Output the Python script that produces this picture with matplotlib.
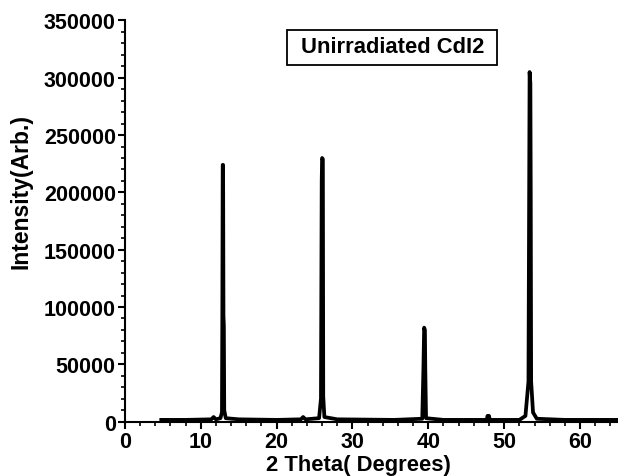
import numpy as np
import matplotlib.pyplot as plt
from matplotlib.patches import Rectangle
from matplotlib.ticker import MultipleLocator

plt.rcParams['font.family'] = ['Liberation Sans', 'DejaVu Sans']
plt.rcParams['font.weight'] = 'bold'

# XRD pattern (2 theta, intensity)
two_theta = [4.8, 8.0, 11.4, 11.7, 12.0, 12.6, 12.8, 12.85, 12.9, 12.95, 13.0, 13.05, 13.1, 13.3,
             15.0, 20.0, 23.2, 23.5, 23.8, 25.6, 25.85, 25.95, 26.0, 26.1, 26.15, 26.3, 28.0,
             35.5, 39.2, 39.35, 39.45, 39.55, 39.6, 39.7, 42.0, 47.7, 47.8, 48.0, 48.1,
             52.0, 52.8, 53.2, 53.35, 53.45, 53.5, 53.55, 53.8, 54.3, 58.0, 65.0]
intensity = [1500, 1500, 2000, 4000, 2000, 3000, 8000, 92000, 224000, 224000, 92000, 84000, 10000, 3000,
             2000, 1500, 2000, 4000, 2000, 3000, 20000, 210000, 230000, 229000, 22000, 4000, 2000,
             1500, 2500, 45000, 82000, 80000, 46000, 3000, 1500, 1500, 5000, 5000, 1500,
             1500, 5000, 35000, 305000, 295000, 196000, 35000, 8000, 2500, 1500, 1500]

fig = plt.figure(figsize=(6.18, 4.77), dpi=100)
ax = fig.add_axes([0.202, 0.114, 0.798, 0.841])

ax.plot(two_theta, intensity, color='black', lw=2.7)

ax.set_xlim(0, 65)
ax.set_ylim(0, 350000)
ax.xaxis.set_major_locator(MultipleLocator(10))
ax.xaxis.set_minor_locator(MultipleLocator(2))
ax.yaxis.set_major_locator(MultipleLocator(50000))
ax.yaxis.set_minor_locator(MultipleLocator(10000))

ax.spines['top'].set_visible(False)
ax.spines['right'].set_visible(False)
ax.spines['left'].set_linewidth(1.5)
ax.spines['bottom'].set_linewidth(1.5)
ax.tick_params(which='major', direction='out', length=5, width=1.5, labelsize=15.5, pad=1.5)
ax.tick_params(which='minor', direction='out', length=3, width=1.2)
for lab in ax.get_xticklabels() + ax.get_yticklabels():
    lab.set_fontweight('bold')

ax.set_xlabel('2 Theta( Degrees)', fontsize=15.8, fontweight='bold', labelpad=0)
ax.xaxis.set_label_coords(0.473, -0.08)
ax.set_ylabel('Intensity(Arb.)', fontsize=16.5, fontweight='bold')
ax.yaxis.set_label_coords(-0.187, 0.575)

# legend-like label box
ax.add_patch(Rectangle((0.329, 0.889), 0.426, 0.088, transform=ax.transAxes,
                       facecolor='white', edgecolor='black', lw=1.3, zorder=3))
ax.text(0.544, 0.934, 'Unirradiated CdI2', transform=ax.transAxes, ha='center', va='center',
        fontsize=15.8, fontweight='bold', zorder=4)

fig.savefig('out.png', dpi=100)
